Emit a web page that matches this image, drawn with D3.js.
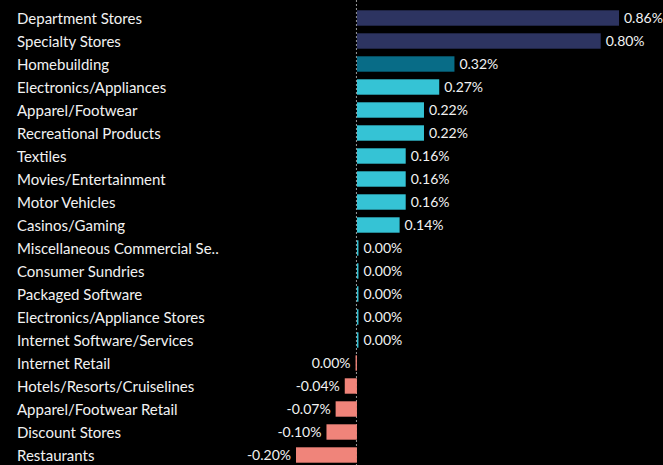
<!doctype html>
<html>
  <head>
    <title>sector moves</title>
    <script src="https://cdn.jsdelivr.net/npm/d3@7"></script>
    <style>
      body { margin: 0; background: #000; }
    </style>
  </head>
  <body>
  <script>

// categories top to bottom
const categories = ["Department Stores", "Specialty Stores", "Homebuilding", "Electronics/Appliances",
  "Apparel/Footwear", "Recreational Products", "Textiles", "Movies/Entertainment", "Motor Vehicles",
  "Casinos/Gaming", "Miscellaneous Commercial Se..", "Consumer Sundries", "Packaged Software",
  "Electronics/Appliance Stores", "Internet Software/Services", "Internet Retail",
  "Hotels/Resorts/Cruiselines", "Apparel/Footwear Retail", "Discount Stores", "Restaurants"];
const values = [0.86, 0.80, 0.32, 0.27, 0.22, 0.22, 0.16, 0.16, 0.16, 0.14,
  0.0049, 0.0049, 0.0049, 0.0049, 0.0049, -0.0045, -0.04, -0.07, -0.10, -0.20];
// colour group per bar
const groups = ["top", "top", "mid", "up", "up", "up", "up", "up", "up", "up",
  "up", "up", "up", "up", "up", "down", "down", "down", "down", "down"];

const w = 663;
const h = 465;

const colors = {top: "#2d3461", mid: "#086c87", up: "#35c3d5", down: "#f0847a"};

const data = categories.map((c, i) => ({name: c, value: values[i], group: groups[i]}));

const svg = d3.select("body")
  .append("svg")
  .attr("width", w)
  .attr("height", h)
  .style("background", "#000");

const x = d3.scaleLinear()
  .domain([-0.20, 0.86])
  .range([296, 619]);

const y = d3.scaleBand()
  .domain(categories)
  .range([6.5, 466.5])
  .paddingInner(0.33)
  .paddingOuter(0.165);

const fmt = d3.formatLocale({decimal: ".", thousands: ",", grouping: [3], currency: ["", ""], minus: "-"})
  .format(".2f");

// zero line
svg.append("line")
  .attr("x1", x(0) - 0.5)
  .attr("x2", x(0) - 0.5)
  .attr("y1", 0)
  .attr("y2", h)
  .attr("stroke", "#9a9a9a")
  .attr("stroke-width", 1)
  .attr("stroke-dasharray", "2,2");

svg.selectAll("rect.bar")
  .data(data)
  .enter()
  .append("rect")
  .attr("class", "bar")
  .attr("x", d => x(Math.min(0, d.value)))
  .attr("width", d => Math.abs(x(d.value) - x(0)))
  .attr("y", d => y(d.name))
  .attr("height", y.bandwidth())
  .attr("fill", d => colors[d.group]);

// category labels
svg.selectAll("text.cat")
  .data(data)
  .enter()
  .append("text")
  .attr("class", "cat")
  .attr("x", 17)
  .attr("y", d => y(d.name) + y.bandwidth() / 2 + 0.5)
  .attr("dy", "0.35em")
  .attr("fill", "#f2f2f2")
  .style("font-family", "Lato, sans-serif")
  .style("font-size", "15px")
  .text(d => d.name);

// value labels
svg.selectAll("text.val")
  .data(data)
  .enter()
  .append("text")
  .attr("class", "val")
  .attr("x", d => d.value >= 0 ? x(d.value) + 5 : x(d.value) - 5)
  .attr("y", d => y(d.name) + y.bandwidth() / 2 + 0.5)
  .attr("dy", "0.35em")
  .attr("text-anchor", d => d.value >= 0 ? "start" : "end")
  .attr("fill", "#f2f2f2")
  .style("font-family", "Lato, sans-serif")
  .style("font-size", "14px")
  .text(d => fmt(d.value) + "%");

  </script>
  </body>
</html>
